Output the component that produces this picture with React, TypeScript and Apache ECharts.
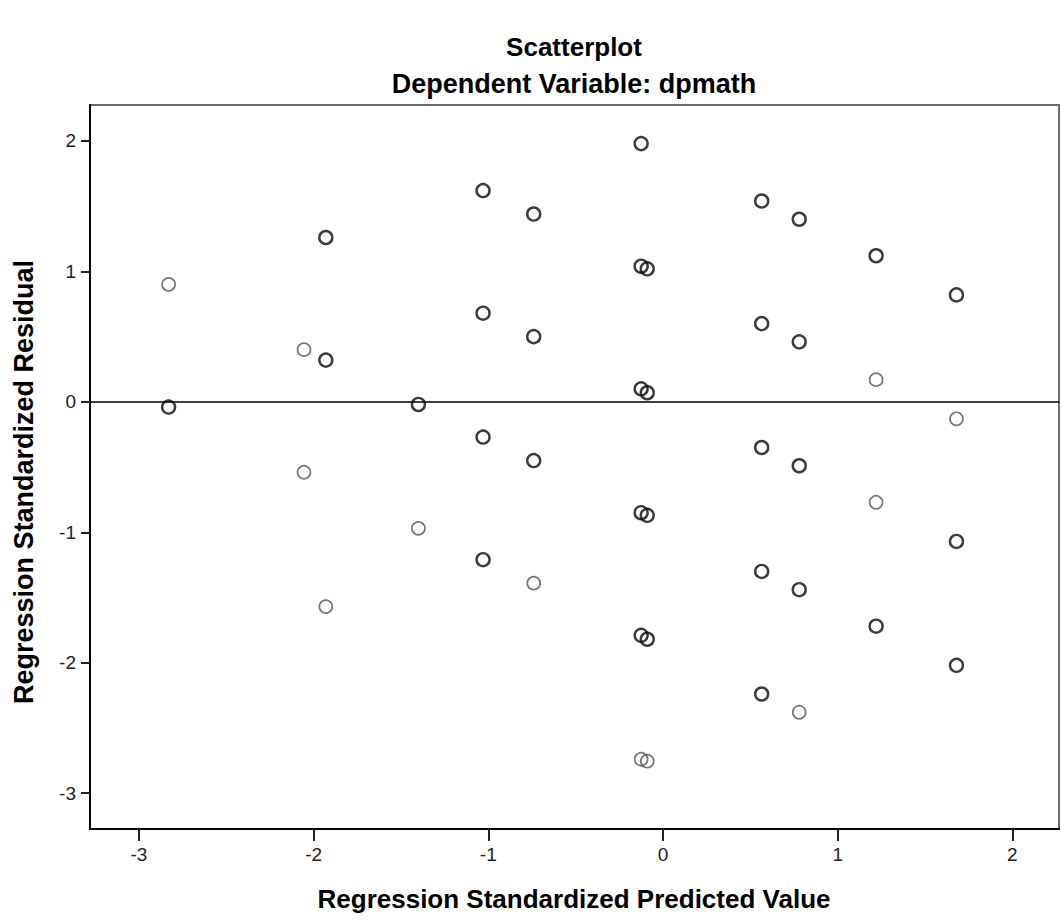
import React, { useEffect, useRef } from "react";
import * as echarts from "echarts";

const titleText = "Scatterplot";
const subtitleText = "Dependent Variable: dpmath";
const xAxisName = "Regression Standardized Predicted Value";
const yAxisName = "Regression Standardized Residual";

const xTicks = [-3, -2, -1, 0, 1, 2];
const yTicks = [-3, -2, -1, 0, 1, 2];

// points drawn with darker outlines (overlapping cases)
const darkPoints: [number, number][] = [
  [-2.83, -0.04],
  [-1.93, 1.26], [-1.93, 0.32],
  [-1.4, -0.02],
  [-1.03, 1.62], [-1.03, 0.68], [-1.03, -0.27], [-1.03, -1.21],
  [-0.74, 1.44], [-0.74, 0.5], [-0.74, -0.45],
  [-0.125, 1.98], [-0.125, 1.04], [-0.09, 1.02], [-0.125, 0.1], [-0.09, 0.07],
  [-0.125, -0.85], [-0.09, -0.87], [-0.125, -1.79], [-0.09, -1.82],
  [0.565, 1.54], [0.565, 0.6], [0.565, -0.35], [0.565, -1.3], [0.565, -2.24],
  [0.78, 1.4], [0.78, 0.46], [0.78, -0.49], [0.78, -1.44],
  [1.22, 1.12], [1.22, -1.72],
  [1.68, 0.82], [1.68, -1.07], [1.68, -2.02],
];

// points drawn with lighter outlines (single cases)
const lightPoints: [number, number][] = [
  [-2.83, 0.9], [-2.055, 0.4], [-2.055, -0.54], [-1.93, -1.57], [-1.4, -0.97],
  [-0.74, -1.39], [-0.125, -2.74], [-0.09, -2.755], [0.78, -2.38],
  [1.22, 0.17], [1.22, -0.77], [1.68, -0.13],
];

const FONT = "'Liberation Sans', Arial, sans-serif";

export default function App() {
  const ref = useRef<HTMLDivElement>(null);
  useEffect(() => {
    if (!ref.current) return;
    const chart = echarts.init(ref.current, null, { renderer: "svg" });
    const boldText = (text: string, x: number, y: number, size: number, rotation = 0) => ({
      type: "text",
      x,
      y,
      rotation,
      style: {
        text,
        fill: "#000",
        fontSize: size,
        fontWeight: "bold",
        fontFamily: FONT,
        align: "center",
        verticalAlign: "middle",
      },
    });
    chart.setOption({
      animation: false,
      backgroundColor: "#ffffff",
      grid: {
        left: 90,
        right: 2,
        top: 105,
        bottom: 93,
        show: true,
        borderColor: "#6a6a6a",
        borderWidth: 2,
        outerBoundsMode: "none",
      },
      graphic: [
        boldText(titleText, 574, 47, 26),
        boldText(subtitleText, 574, 84, 27),
        boldText(xAxisName, 574, 899, 26),
        boldText(yAxisName, 24, 482, 27, Math.PI / 2),
      ],
      xAxis: {
        type: "value",
        min: -3.28,
        max: 2.267,
        splitLine: { show: false },
        axisLine: { show: true, onZero: false, lineStyle: { color: "#000", width: 2 } },
        axisTick: { show: true, length: 12, customValues: xTicks, lineStyle: { color: "#222", width: 2 } },
        axisLabel: { customValues: xTicks, margin: 16, fontSize: 19, color: "#222", fontFamily: FONT },
      },
      yAxis: {
        type: "value",
        min: -3.275,
        max: 2.276,
        splitLine: { show: false },
        axisLine: { show: true, onZero: false, lineStyle: { color: "#000", width: 2 } },
        axisTick: { show: true, length: 9, customValues: yTicks, lineStyle: { color: "#222", width: 2 } },
        axisLabel: { customValues: yTicks, margin: 14, fontSize: 19, color: "#222", fontFamily: FONT },
      },
      series: [
        {
          type: "scatter",
          data: darkPoints,
          symbol: "circle",
          symbolSize: 13,
          itemStyle: { color: "rgba(0,0,0,0)", borderColor: "#0a0a0a", borderWidth: 2.4 },
          markLine: {
            silent: true,
            symbol: "none",
            label: { show: false },
            lineStyle: { color: "#000", width: 1.5, type: "solid" },
            data: [{ yAxis: 0 }],
          },
        },
        {
          type: "scatter",
          data: lightPoints,
          symbol: "circle",
          symbolSize: 13,
          itemStyle: { color: "rgba(0,0,0,0)", borderColor: "#555", borderWidth: 1.7 },
        },
      ],
    });
    return () => chart.dispose();
  }, []);
  return (
    <div
      ref={ref}
      style={{ position: "absolute", left: 0, top: 0, width: 1061, height: 922 }}
    />
  );
}
